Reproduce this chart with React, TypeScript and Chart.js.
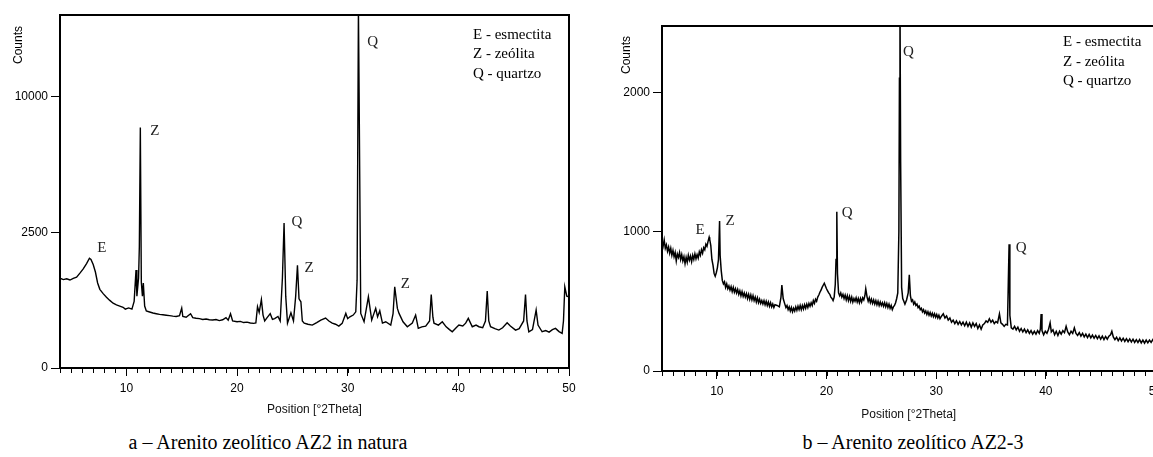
import React, { useEffect, useRef } from 'react';
import { Chart, LinearScale, registerables } from 'chart.js';

Chart.register(...registerables);

// Square-root intensity scale (as used by the diffractometer software for panel a)
class SqrtScale extends LinearScale {
  static id = 'sqrt';
  static defaults = {};
  declare _sMin: number;
  declare _sRange: number;
  configure() {
    super.configure();
    this._sMin = Math.sqrt(Math.max(this.min, 0));
    this._sRange = Math.sqrt(Math.max(this.max, 0)) - this._sMin || 1;
  }
  getPixelForValue(value: number) {
    if (value === null || value === undefined || isNaN(value)) return NaN;
    const s = Math.sqrt(Math.max(value, 0));
    return this.getPixelForDecimal((s - this._sMin) / this._sRange);
  }
  getValueForPixel(pixel: number) {
    const s = this._sMin + this.getDecimalForPixel(pixel) * this._sRange;
    return s * s;
  }
}
Chart.register(SqrtScale);

// ---------------- DATA ----------------
// Panel a – Arenito zeolítico AZ2 in natura
const leftTheta = [
  4.0, 4.3, 4.6, 4.9, 5.2, 5.5, 5.8, 6.1, 6.4, 6.66,
  6.8, 7.0, 7.2, 7.4, 7.6, 7.9, 8.2, 8.5, 8.8, 9.1,
  9.4, 9.7, 9.9, 10.2, 10.5, 10.7, 10.87, 10.95, 11.1, 11.17,
  11.26, 11.35, 11.45, 11.53, 11.65, 11.8, 12.1, 12.4, 12.7, 13.0,
  13.3, 13.6, 13.9, 14.2, 14.5, 14.8, 15.0, 15.1, 15.4, 15.8,
  16.0, 16.3, 16.6, 16.9, 17.2, 17.5, 17.8, 18.1, 18.4, 18.7,
  19.0, 19.2, 19.41, 19.6, 20.0, 20.3, 20.6, 20.9, 21.2, 21.5,
  21.7, 21.85, 22.0, 22.2, 22.35, 22.5, 22.7, 23.0, 23.2, 23.4,
  23.7, 23.9, 24.1, 24.25, 24.4, 24.56, 24.87, 25.1, 25.3, 25.46,
  25.6, 25.77, 25.9, 26.07, 26.4, 26.8, 27.2, 27.57, 28.0, 28.3,
  28.6, 28.9, 29.2, 29.5, 29.83, 30.0, 30.2, 30.5, 30.73, 30.85,
  30.97, 31.03, 31.18, 31.48, 31.87, 32.17, 32.53, 32.7, 32.9, 33.14,
  33.44, 33.89, 34.1, 34.25, 34.49, 34.64, 35.0, 35.39, 35.84, 36.14,
  36.38, 36.7, 37.05, 37.4, 37.55, 37.7, 37.8, 38.2, 38.55, 38.9,
  39.2, 39.45, 39.8, 40.05, 40.4, 40.66, 40.9, 41.26, 41.6, 41.86,
  42.2, 42.45, 42.61, 42.75, 42.91, 43.3, 43.66, 44.0, 44.41, 44.7,
  45.17, 45.5, 45.9, 46.07, 46.2, 46.37, 46.7, 47.03, 47.2, 47.57,
  47.9, 48.2, 48.5, 48.78, 49.1, 49.38, 49.5, 49.62, 49.8, 50.0,
];
const leftCounts = [
  1095, 1060, 1080, 1050, 1090, 1120, 1220, 1330, 1480, 1635,
  1600, 1450, 1250, 980, 840, 750, 680, 620, 570, 540,
  520, 500, 470, 490, 470, 600, 1300, 700, 1100, 1990,
  7850, 1000, 700, 980, 520, 440, 425, 410, 400, 390,
  385, 378, 372, 365, 360, 370, 487, 360, 350, 400,
  345, 335, 330, 320, 325, 315, 312, 318, 305, 315,
  345, 310, 400, 300, 290, 295, 280, 285, 275, 270,
  275, 510, 420, 635, 380, 300, 340, 400, 320, 330,
  360, 300, 1100, 2850, 700, 273, 413, 300, 700, 1434,
  650, 594, 300, 273, 260, 250, 280, 311, 338, 300,
  273, 260, 238, 270, 404, 330, 356, 380, 428, 1047,
  17500, 10400, 404, 290, 687, 311, 482, 356, 444, 273,
  290, 250, 400, 894, 482, 404, 290, 231, 273, 380,
  213, 230, 238, 300, 734, 350, 273, 250, 290, 230,
  200, 178, 220, 250, 240, 273, 334, 231, 250, 231,
  220, 300, 801, 300, 231, 210, 195, 220, 277, 240,
  195, 210, 300, 734, 300, 178, 200, 455, 250, 178,
  190, 175, 200, 213, 180, 163, 300, 894, 700, 687,
];
const leftXTicks = [10, 20, 30, 40, 50];
const leftYTicks = [0, 2500, 10000];
const leftPeakLabels = ['E', 'Z', 'Q', 'Z', 'Q', 'Z'];
const leftPeakTheta = [7.77, 12.56, 25.41, 26.5, 32.26, 35.2];
const leftPeakCounts = [1944, 7600, 2880, 1349, 14420, 950];

// Panel b – Arenito zeolítico AZ2-3
const rightTheta = [
  5.0, 5.1, 5.2, 5.3, 5.4, 5.5, 5.6, 5.7, 5.8, 5.9,
  6.0, 6.1, 6.2, 6.3, 6.4, 6.5, 6.6, 6.7, 6.8, 6.9,
  7.0, 7.1, 7.2, 7.3, 7.4, 7.5, 7.6, 7.7, 7.8, 7.9,
  8.0, 8.1, 8.2, 8.3, 8.4, 8.5, 8.6, 8.7, 8.8, 8.9,
  9.0, 9.1, 9.2, 9.3, 9.35, 9.45, 9.55, 9.65, 9.75, 9.85,
  9.95, 10.05, 10.15, 10.25, 10.3, 10.4, 10.5, 10.6, 10.7, 10.8,
  10.9, 11.0, 11.1, 11.2, 11.3, 11.4, 11.5, 11.6, 11.7, 11.8,
  11.9, 12.0, 12.1, 12.2, 12.3, 12.4, 12.5, 12.6, 12.7, 12.8,
  12.9, 13.0, 13.1, 13.2, 13.3, 13.4, 13.5, 13.6, 13.7, 13.8,
  13.9, 14.0, 14.1, 14.2, 14.3, 14.4, 14.5, 14.6, 14.7, 14.8,
  14.9, 15.0, 15.1, 15.2, 15.3, 15.5, 15.7, 15.85, 15.93, 16.05,
  16.2, 16.3, 16.4, 16.5, 16.6, 16.7, 16.8, 16.9, 17.0, 17.1,
  17.2, 17.3, 17.4, 17.5, 17.6, 17.7, 17.8, 17.9, 18.0, 18.1,
  18.2, 18.3, 18.4, 18.5, 18.6, 18.7, 18.8, 18.9, 19.0, 19.1,
  19.2, 19.3, 19.4, 19.5, 19.6, 19.7, 19.8, 19.9, 20.0, 20.1,
  20.2, 20.3, 20.4, 20.5, 20.6, 20.7, 20.8, 20.87, 20.94, 21.0,
  21.1, 21.2, 21.3, 21.4, 21.5, 21.6, 21.7, 21.8, 21.9, 22.0,
  22.1, 22.2, 22.3, 22.4, 22.5, 22.6, 22.7, 22.8, 22.9, 23.0,
  23.1, 23.2, 23.3, 23.4, 23.5, 23.58, 23.7, 23.8, 23.9, 24.0,
  24.1, 24.2, 24.3, 24.4, 24.5, 24.6, 24.7, 24.8, 24.9, 25.0,
  25.1, 25.2, 25.3, 25.4, 25.5, 25.6, 25.7, 25.8, 25.9, 26.0,
  26.1, 26.2, 26.3, 26.4, 26.5, 26.6, 26.65, 26.7, 26.76, 26.85,
  26.95, 27.05, 27.15, 27.3, 27.45, 27.55, 27.65, 27.75, 27.85, 27.95,
  28.05, 28.15, 28.25, 28.35, 28.45, 28.55, 28.65, 28.75, 28.85, 28.95,
  29.05, 29.15, 29.25, 29.35, 29.45, 29.55, 29.65, 29.75, 29.85, 29.95,
  30.05, 30.15, 30.25, 30.35, 30.5, 30.65, 30.8, 30.95, 31.1, 31.25,
  31.4, 31.55, 31.7, 31.85, 32.0, 32.15, 32.3, 32.45, 32.6, 32.75,
  32.9, 33.05, 33.2, 33.35, 33.5, 33.65, 33.8, 33.95, 34.1, 34.25,
  34.4, 34.55, 34.7, 34.85, 35.0, 35.15, 35.3, 35.45, 35.6, 35.77,
  35.9, 36.05, 36.2, 36.35, 36.5, 36.58, 36.65, 36.72, 36.85, 37.0,
  37.15, 37.3, 37.45, 37.6, 37.75, 37.9, 38.05, 38.2, 38.35, 38.5,
  38.65, 38.8, 38.95, 39.1, 39.25, 39.4, 39.5, 39.57, 39.65, 39.8,
  39.95, 40.1, 40.25, 40.39, 40.5, 40.65, 40.8, 40.95, 41.1, 41.25,
  41.4, 41.55, 41.7, 41.85, 42.0, 42.15, 42.3, 42.45, 42.6, 42.75,
  42.9, 43.05, 43.2, 43.35, 43.5, 43.65, 43.8, 43.95, 44.1, 44.25,
  44.4, 44.55, 44.7, 44.85, 45.0, 45.15, 45.3, 45.45, 45.6, 45.75,
  45.9, 46.02, 46.15, 46.3, 46.45, 46.6, 46.75, 46.9, 47.05, 47.2,
  47.35, 47.5, 47.65, 47.8, 47.95, 48.1, 48.25, 48.4, 48.55, 48.7,
  48.85, 49.0, 49.15, 49.3, 49.45, 49.6, 49.75, 49.9, 50.0,
];
const rightCounts = [
  930, 895, 940, 880, 905, 860, 890, 845, 880, 830,
  865, 820, 850, 790, 840, 815, 850, 800, 835, 790,
  820, 770, 815, 780, 830, 795, 825, 785, 830, 800,
  840, 805, 835, 810, 855, 830, 870, 845, 885, 870,
  910, 895, 930, 960, 945, 900, 800, 760, 700, 680,
  705, 740, 800, 1076, 830, 720, 650, 625, 640, 600,
  625, 590, 610, 580, 605, 570, 600, 565, 590, 560,
  585, 550, 575, 540, 570, 535, 560, 530, 555, 520,
  550, 515, 545, 510, 540, 505, 530, 495, 525, 490,
  515, 485, 505, 480, 505, 475, 500, 470, 495, 465,
  490, 460, 480, 455, 475, 470, 460, 530, 617, 520,
  480, 455, 470, 440, 460, 430, 455, 425, 450, 430,
  460, 435, 465, 440, 470, 440, 470, 445, 475, 450,
  480, 455, 485, 465, 490, 470, 505, 485, 515, 500,
  530, 545, 565, 580, 600, 615, 630, 610, 590, 575,
  560, 550, 530, 520, 505, 530, 620, 800, 1143, 700,
  560, 540, 560, 530, 550, 520, 545, 510, 540, 505,
  535, 500, 530, 495, 520, 500, 525, 495, 520, 490,
  520, 495, 525, 510, 540, 590, 530, 500, 525, 490,
  515, 485, 510, 480, 505, 475, 500, 470, 495, 470,
  490, 465, 490, 460, 485, 455, 480, 450, 470, 440,
  460, 470, 490, 520, 560, 1000, 2100, 2700, 1500, 600,
  520, 500, 480, 510, 560, 690, 540, 500, 510, 480,
  495, 470, 480, 455, 465, 440, 450, 425, 440, 415,
  430, 405, 425, 400, 420, 395, 415, 390, 410, 385,
  405, 380, 400, 375, 395, 410, 380, 395, 365, 380,
  350, 365, 340, 360, 335, 355, 330, 350, 325, 350,
  320, 345, 315, 345, 320, 340, 305, 330, 300, 330,
  340, 360, 350, 375, 350, 365, 340, 355, 345, 410,
  345, 335, 320, 335, 330, 640, 909, 400, 310, 300,
  320, 295, 315, 285, 305, 280, 300, 275, 295, 270,
  290, 265, 285, 265, 290, 270, 300, 409, 290, 260,
  285, 270, 300, 345, 280, 295, 260, 285, 255, 285,
  265, 290, 275, 320, 280, 260, 285, 270, 310, 270,
  255, 275, 250, 270, 245, 265, 240, 262, 238, 258,
  235, 255, 232, 252, 228, 250, 225, 248, 228, 250,
  260, 285, 245, 225, 242, 218, 238, 215, 235, 212,
  232, 210, 230, 208, 228, 205, 225, 205, 225, 202,
  222, 200, 222, 202, 222, 205, 225, 205, 218,
];
const rightXTicks = [10, 20, 30, 40, 50];
const rightYTicks = [0, 1000, 2000];
const rightPeakLabels = ['E', 'Z', 'Q', 'Q', 'Q'];
const rightPeakTheta = [8.48, 11.21, 21.88, 27.47, 37.75];
const rightPeakCounts = [1012, 1076, 1134, 2291, 883];

const legendItems = ['E - esmectita', 'Z - zeólita', 'Q - quartzo'];
const xAxisTitle = 'Position [°2Theta]';
const yAxisTitle = 'Counts';
const captionA = 'a – Arenito zeolítico AZ2 in natura';
const captionB = 'b – Arenito zeolítico AZ2-3';

// ---------------- STYLE ----------------
const SANS = '"Liberation Sans", Arial, Helvetica, sans-serif';
const SERIF = '"Liberation Serif", "Times New Roman", Times, serif';

const xrdTextPlugin = {
  id: 'xrdText',
  afterDraw(chart: any, _args: any, opts: any) {
    const { ctx, chartArea, scales } = chart;

    // minor ticks every 1 °2θ, placed through the x scale
    ctx.save();
    ctx.strokeStyle = '#000';
    ctx.lineWidth = 1;
    ctx.beginPath();
    for (let v = Math.ceil(scales.x.min); v <= scales.x.max; v += 1) {
      const px = Math.round(scales.x.getPixelForValue(v)) + 0.5;
      ctx.moveTo(px, chartArea.bottom + 1);
      ctx.lineTo(px, chartArea.bottom + 5);
    }
    ctx.stroke();
    ctx.restore();

    // y-axis title
    ctx.save();
    ctx.font = `12px ${SANS}`;
    ctx.fillStyle = '#000';
    ctx.textAlign = 'center';
    ctx.textBaseline = 'middle';
    ctx.translate(chartArea.left - opts.countsDx, chartArea.top + opts.countsDy);
    ctx.rotate(-Math.PI / 2);
    ctx.fillText(yAxisTitle, 0, 0);
    ctx.restore();

    // peak labels
    ctx.save();
    ctx.font = `15px ${SERIF}`;
    ctx.fillStyle = '#222';
    ctx.textAlign = 'center';
    ctx.textBaseline = 'middle';
    opts.labels.forEach((t: string, i: number) => {
      const px = scales.x.getPixelForValue(opts.theta[i]);
      const py = scales.y.getPixelForValue(opts.counts[i]);
      ctx.fillText(t, px, py);
    });
    ctx.restore();

    // phase legend
    ctx.save();
    ctx.font = `15px ${SERIF}`;
    ctx.fillStyle = '#000';
    ctx.textAlign = 'left';
    ctx.textBaseline = 'middle';
    legendItems.forEach((t, i) => {
      ctx.fillText(t, chartArea.right - opts.legendDx, chartArea.top + opts.legendDy + i * 19.5);
    });
    ctx.restore();
  },
};

type Panel = {
  theta: number[];
  counts: number[];
  yType: string;
  xMin: number;
  xMax: number;
  yMax: number;
  xTicks: number[];
  yTicks: number[];
  width: number;
  height: number;
  padTop: number;
  padRight: number;
  yAxisWidth: number;
  chartBottom: number;
  titlePadBottom: number;
  lineWidth: number;
  countsDx: number;
  countsDy: number;
  legendDx: number;
  legendDy: number;
  labels: string[];
  labelTheta: number[];
  labelCounts: number[];
};

function makeConfig(p: Panel): any {
  const tickFont = { family: SANS, size: 12 };
  return {
    type: 'line',
    data: {
      datasets: [
        {
          data: p.theta.map((t, i) => ({ x: t, y: p.counts[i] })),
          borderColor: '#000',
          borderWidth: p.lineWidth,
          pointRadius: 0,
          tension: 0,
          fill: false,
        },
      ],
    },
    options: {
      responsive: false,
      animation: false,
      devicePixelRatio: 1,
      events: [],
      layout: { padding: { top: p.padTop, right: p.padRight, left: 0, bottom: 0 } },
      plugins: {
        legend: { display: false },
        tooltip: { enabled: false },
        xrdText: {
          countsDx: p.countsDx,
          countsDy: p.countsDy,
          legendDx: p.legendDx,
          legendDy: p.legendDy,
          labels: p.labels,
          theta: p.labelTheta,
          counts: p.labelCounts,
        },
      },
      scales: {
        x: {
          type: 'linear',
          position: 'bottom',
          min: p.xMin,
          max: p.xMax,
          afterBuildTicks: (s: any) => {
            s.ticks = p.xTicks.map((v) => ({ value: v }));
          },
          afterFit: (s: any) => {
            s.height = p.height - p.chartBottom;
          },
          grid: { drawOnChartArea: false, tickLength: 8, tickColor: '#000', lineWidth: 1 },
          border: { display: true, color: '#000', width: 2 },
          ticks: {
            color: '#000',
            font: tickFont,
            padding: 5,
            maxRotation: 0,
            autoSkip: false,
            callback: (v: any) => String(v),
          },
          title: {
            display: true,
            text: xAxisTitle,
            color: '#111',
            font: tickFont,
            padding: { top: 0, bottom: p.titlePadBottom },
          },
        },
        xt: {
          type: 'linear',
          position: 'top',
          min: p.xMin,
          max: p.xMax,
          grid: { display: false, drawTicks: false },
          border: { display: true, color: '#000', width: 2 },
          ticks: { display: false },
        },
        y: {
          type: p.yType,
          position: 'left',
          min: 0,
          max: p.yMax,
          afterBuildTicks: (s: any) => {
            s.ticks = p.yTicks.map((v) => ({ value: v }));
          },
          afterFit: (s: any) => {
            s.width = p.yAxisWidth;
          },
          grid: { drawOnChartArea: false, tickLength: 9, tickColor: '#000', lineWidth: 1 },
          border: { display: true, color: '#000', width: 2 },
          ticks: {
            color: '#000',
            font: tickFont,
            padding: 3,
            autoSkip: false,
            callback: (v: any) => String(v),
          },
        },
        yr: {
          type: 'linear',
          position: 'right',
          grid: { display: false, drawTicks: false },
          border: { display: true, color: '#000', width: 2 },
          ticks: { display: false },
        },
      },
    },
    plugins: [xrdTextPlugin],
  };
}

const leftPanel: Panel = {
  theta: leftTheta,
  counts: leftCounts,
  yType: 'sqrt',
  xMin: 4,
  xMax: 50,
  yMax: 16900,
  xTicks: leftXTicks,
  yTicks: leftYTicks,
  width: 600,
  height: 430,
  padTop: 15,
  padRight: 31,
  yAxisWidth: 60,
  chartBottom: 368,
  titlePadBottom: 13,
  lineWidth: 1.4,
  countsDx: 41,
  countsDy: 30,
  legendDx: 96,
  legendDy: 20,
  labels: leftPeakLabels,
  labelTheta: leftPeakTheta,
  labelCounts: leftPeakCounts,
};

const rightPanel: Panel = {
  theta: rightTheta,
  counts: rightCounts,
  yType: 'linear',
  xMin: 5,
  xMax: 50,
  yMax: 2475,
  xTicks: rightXTicks,
  yTicks: rightYTicks,
  width: 600,
  height: 430,
  padTop: 26,
  padRight: 44.5,
  yAxisWidth: 62,
  chartBottom: 371,
  titlePadBottom: 8,
  lineWidth: 1.5,
  countsDx: 35,
  countsDy: 29,
  legendDx: 92.5,
  legendDy: 16.5,
  labels: rightPeakLabels,
  labelTheta: rightPeakTheta,
  labelCounts: rightPeakCounts,
};

function XrdPanel({ panel, left }: { panel: Panel; left: number }) {
  const ref = useRef<HTMLCanvasElement>(null);
  useEffect(() => {
    const chart = new Chart(ref.current as HTMLCanvasElement, makeConfig(panel));
    return () => chart.destroy();
  }, [panel]);
  return (
    <canvas
      ref={ref}
      width={panel.width}
      height={panel.height}
      style={{ position: 'absolute', left, top: 0, width: panel.width, height: panel.height }}
    />
  );
}

const captionStyle: React.CSSProperties = {
  position: 'absolute',
  top: 431,
  height: 22,
  lineHeight: '22px',
  fontFamily: SERIF,
  fontSize: 20,
  color: '#000',
  textAlign: 'center',
  whiteSpace: 'nowrap',
};

export default function App() {
  return (
    <div
      style={{
        position: 'fixed',
        left: 0,
        top: 0,
        width: 1153,
        height: 457,
        overflow: 'hidden',
        background: '#fff',
      }}
    >
      <XrdPanel panel={leftPanel} left={0} />
      <XrdPanel panel={rightPanel} left={600} />
      <div style={{ ...captionStyle, left: 0, width: 536 }}>{captionA}</div>
      <div style={{ ...captionStyle, left: 613, width: 600 }}>{captionB}</div>
    </div>
  );
}
